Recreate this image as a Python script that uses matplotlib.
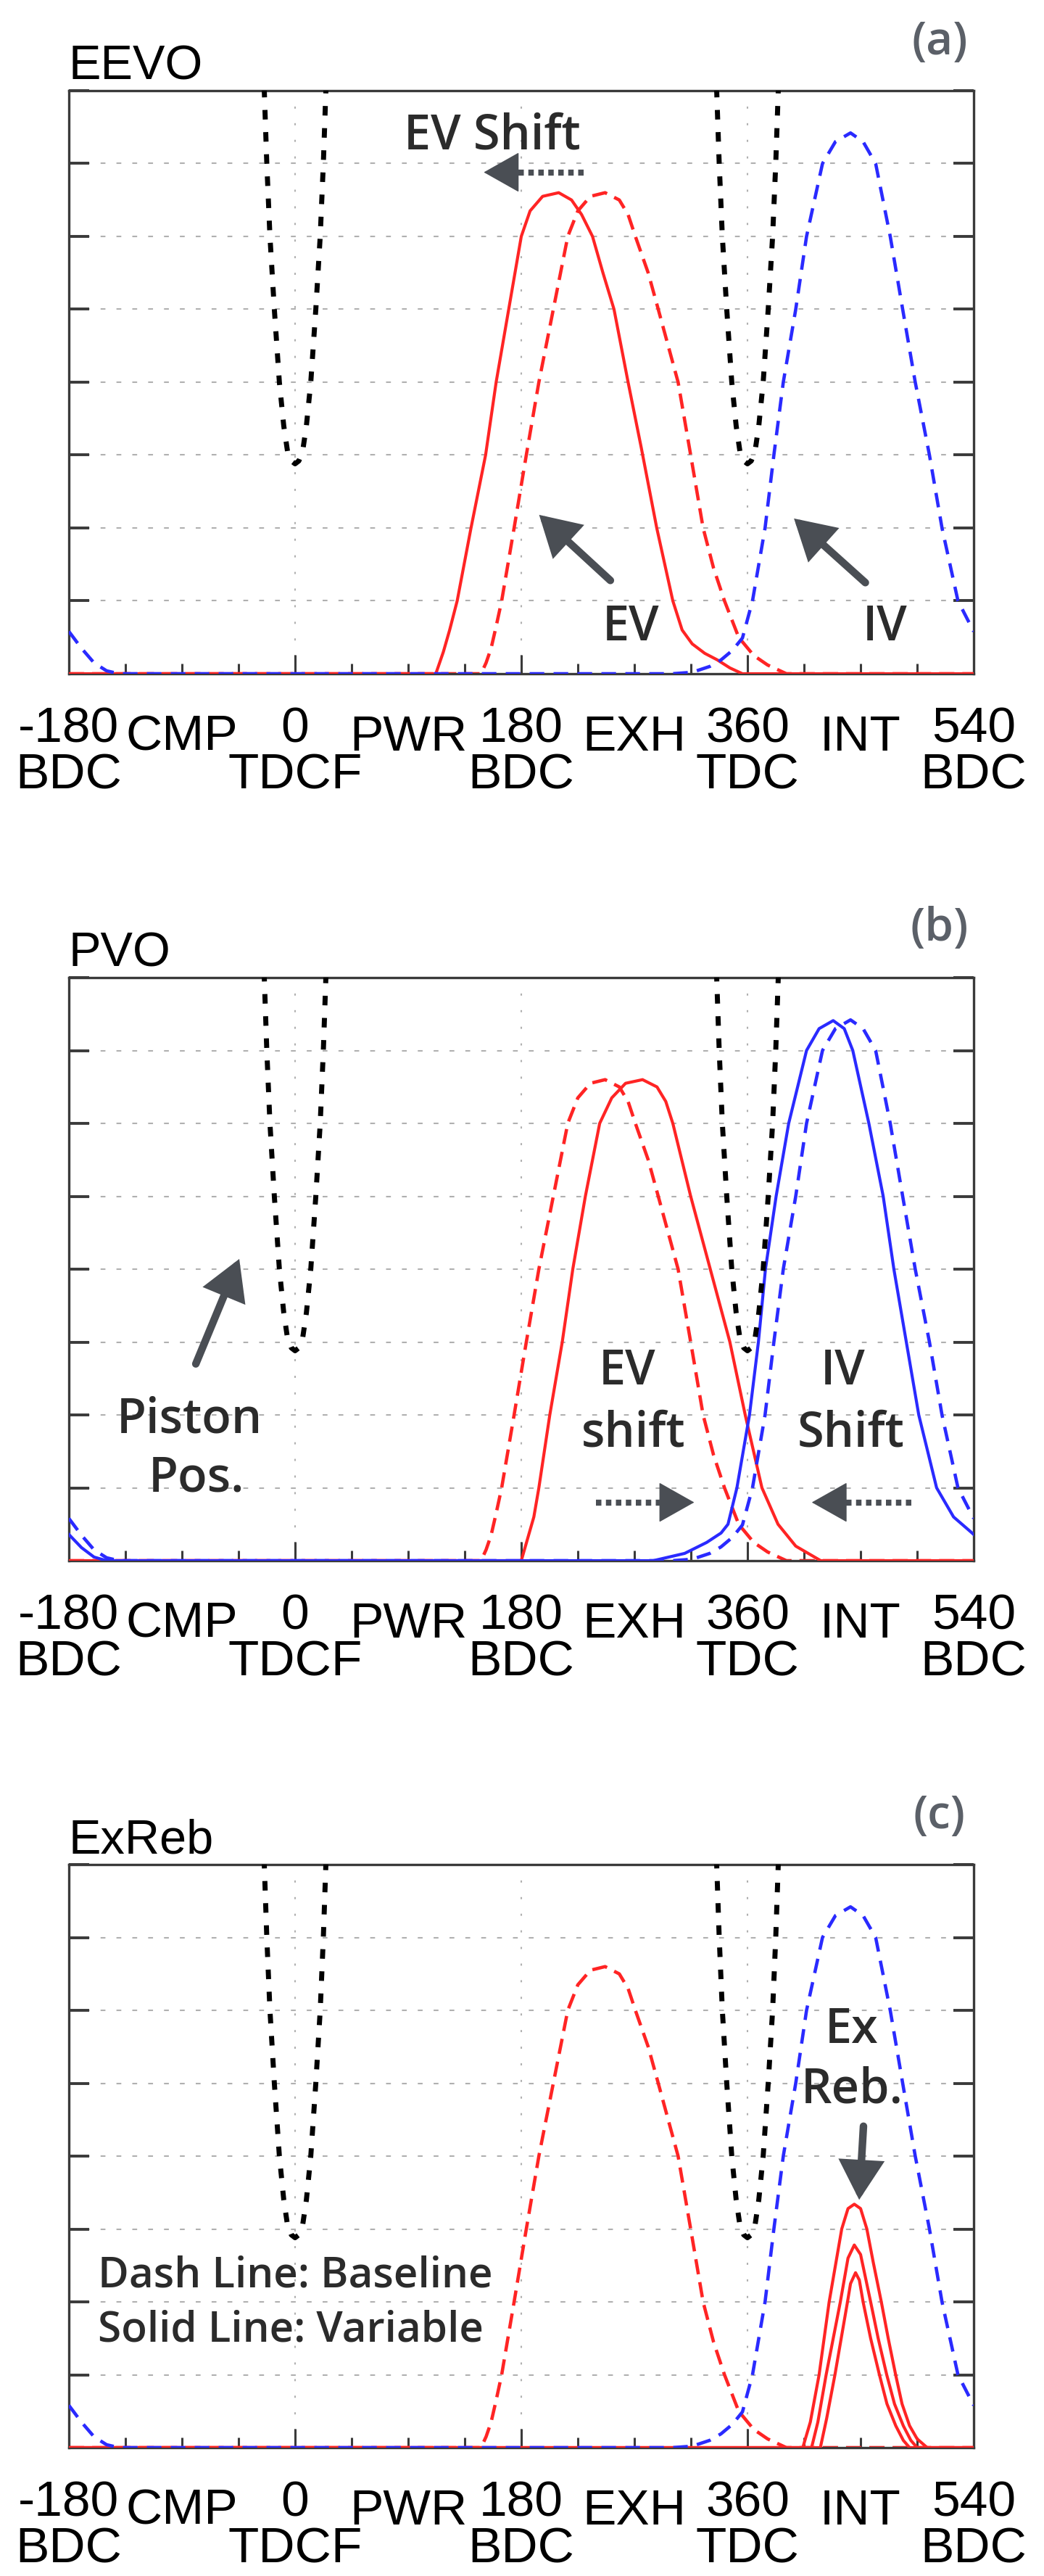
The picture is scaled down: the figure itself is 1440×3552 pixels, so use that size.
import matplotlib
matplotlib.use("Agg")
import matplotlib.pyplot as plt

# ------------------------------------------------------------------
# values (crank angle in deg, lift in grid units)
# ------------------------------------------------------------------
tdc_deg = [0, 360]
piston_off = [-30, -24.5, -22.5, -20, -16.5, -12.5, -9, -6, -3, 0, 3, 6, 9, 12.5, 16.5, 20, 22.5, 24.5, 30]
piston_lift = [9.9, 8.0, 7.0, 6.0, 5.0, 4.0, 3.4, 3.05, 2.92, 2.88, 2.92, 3.05, 3.4, 4.0, 5.0, 6.0, 7.0, 8.0, 9.9]

# baseline exhaust valve (dashed red), same in all panels
ev_base_deg = [-180, 148, 152, 156, 160, 164.4, 174.3, 184, 194, 205.5, 217, 225, 235, 246.7, 258, 265,
               270.8, 281, 289, 304.8, 314.8, 324.7, 333, 341.7, 353, 365, 376, 391, 540]
ev_base_lift = [0, 0, 0.15, 0.35, 0.65, 1.0, 2.0, 3.0, 4.0, 5.0, 6.0, 6.35, 6.55, 6.6, 6.5, 6.3,
                6.0, 5.5, 5.0, 4.0, 3.0, 2.0, 1.45, 1.0, 0.5, 0.25, 0.12, 0, 0]

# baseline intake valve (dashed blue), same in all panels
iv_base_deg = [-180, -170, -160, -150, -140, 300, 316, 330, 339, 348, 356, 364, 374, 381, 388.5, 398.4,
               407, 419.7, 430, 442, 452, 462, 473.6, 483.5, 493.5, 504.8, 514.8, 527.5, 540]
iv_base_lift = [0.58, 0.35, 0.15, 0.04, 0, 0, 0.02, 0.1, 0.19, 0.32, 0.49, 1.0, 2.0, 3.0, 4.0, 5.0,
                6.0, 7.0, 7.3, 7.42, 7.3, 7.0, 6.0, 5.0, 4.0, 3.0, 2.0, 1.0, 0.58]

# (a) EEVO: exhaust valve opened earlier
ev_eevo_deg = [-180, 112, 118, 123, 129, 140, 151.6, 160, 170, 180, 187, 197, 209.8, 220, 228, 236.7,
               245, 253.8, 265, 275.5, 287.8, 300.6, 308, 316, 326, 336, 346, 356, 540]
ev_eevo_lift = [0, 0, 0.3, 0.6, 1.0, 2.0, 3.0, 4.0, 5.0, 6.0, 6.35, 6.55, 6.6, 6.5, 6.3, 6.0,
                5.5, 5.0, 4.0, 3.1, 2.0, 1.0, 0.6, 0.41, 0.28, 0.19, 0.08, 0, 0]

# (b) PVO: exhaust later, intake earlier
ev_pvo_deg = [-180, 180, 185, 190, 194, 202.7, 212.6, 221, 231, 242.4, 252, 263, 276.5, 288, 295,
              300.6, 314.8, 330.4, 346, 358.2, 371.5, 384.3, 398.4, 418.3, 540]
ev_pvo_lift = [0, 0, 0.3, 0.6, 1.0, 2.0, 3.0, 4.0, 5.0, 6.0, 6.35, 6.55, 6.6, 6.5, 6.3,
               6.0, 5.0, 4.0, 3.0, 2.0, 1.0, 0.5, 0.2, 0, 0]
iv_pvo_deg = [-180, -170, -160, -150, 285, 310, 327.5, 339, 344.5, 351.6, 361.6, 368.7, 374.3, 382.8,
              392.8, 407, 417, 428.2, 437, 443.8, 456.6, 468, 476.5, 486.4, 496.3, 510.5, 524, 537.4, 540]
iv_pvo_lift = [0.36, 0.18, 0.05, 0, 0, 0.1, 0.25, 0.38, 0.5, 1.0, 2.0, 3.0, 4.0, 5.0,
               6.0, 7.0, 7.3, 7.41, 7.3, 7.0, 6.0, 5.0, 4.0, 3.0, 2.0, 1.0, 0.6, 0.4, 0.36]

# (c) exhaust rebreathing, three lift levels
reb_deg = [
    [-180, 404, 410, 417, 425, 435, 440, 445, 450, 455, 460, 466.5, 472, 477.9, 483, 489, 495, 503, 540],
    [-180, 411, 416, 422.6, 433.9, 440, 445, 450, 458, 464, 470.8, 477, 484, 490, 495, 540],
    [-180, 418, 423, 429.6, 439.6, 442, 446, 449, 452, 458, 465, 471, 478, 484, 489, 540],
]
reb_lift = [
    [0, 0, 0.35, 1.0, 2.0, 3.0, 3.28, 3.34, 3.28, 3.0, 2.55, 2.0, 1.5, 1.0, 0.6, 0.3, 0.12, 0, 0],
    [0, 0, 0.35, 1.0, 2.0, 2.6, 2.78, 2.65, 2.0, 1.5, 1.0, 0.6, 0.3, 0.1, 0, 0],
    [0, 0, 0.4, 1.0, 2.0, 2.25, 2.4, 2.3, 2.0, 1.5, 1.0, 0.6, 0.3, 0.1, 0, 0],
]

tick_deg = [-180, 0, 180, 360, 540]
tick_num = ["-180", "0", "180", "360", "540"]
tick_ref = ["BDC", "TDCF", "BDC", "TDC", "BDC"]
stroke_deg = [-90, 90, 270, 450]
stroke_lab = ["CMP", "PWR", "EXH", "INT"]

titles = ["EEVO", "PVO", "ExReb"]
letters = ["(a)", "(b)", "(c)"]

RED = "#ff2424"
BLUE = "#2a2aff"
ARROW = "#4a4e54"
TXT = "#2b2b2b"
FRAME = "#3a3a3a"
LABEL_FONT = ["Liberation Sans", "DejaVu Sans"]
NOTE_FONT = ["Open Sans", "DejaVu Sans"]

W, H = 1440, 3552
fig = plt.figure(figsize=(W / 100, H / 100), dpi=100)

# axes boxes in pixels: left, top, width, height
frames = [(95, 125, 1248, 804), (95, 1348, 1248, 804), (95, 2571, 1248, 804)]
letter_y = [58, 1281, 2504]


def note(ax, s, x, y, size=48, ha="center"):
    ax.text(x, y, s, ha=ha, va="baseline", fontsize=size, family=NOTE_FONT,
            weight="semibold", color=TXT, zorder=6)


def solid_arrow(ax, tail, tip):
    ax.annotate("", xy=tip, xytext=tail,
                arrowprops=dict(arrowstyle="-|>,head_length=0.95,head_width=0.55",
                                mutation_scale=30, lw=7.5, color=ARROW,
                                shrinkA=0, shrinkB=0, joinstyle="miter"),
                zorder=6)


def dotted_arrow(ax, tail, base, tip, y):
    ax.plot([tail, base], [y, y], color=ARROW, lw=6, linestyle=(0, (0.9, 0.75)),
            solid_capstyle="butt", dash_capstyle="butt", zorder=6)
    ax.annotate("", xy=(tip, y), xytext=(base, y),
                arrowprops=dict(arrowstyle="-|>,head_length=1.1,head_width=0.62",
                                mutation_scale=30, lw=1, color=ARROW,
                                shrinkA=0, shrinkB=0),
                zorder=6)


axes = []
for i, (l, t, w, h) in enumerate(frames):
    ax = fig.add_axes([l / W, 1 - (t + h) / H, w / W, h / H])
    axes.append(ax)
    ax.set_xlim(-180, 540)
    ax.set_ylim(0, 8)

    ax.set_xticks([0, 180, 360])
    ax.set_xticks([d for d in range(-135, 540, 45) if d not in (0, 180, 360)], minor=True)
    ax.set_yticks(range(0, 9))
    ax.tick_params(axis="x", which="major", direction="in", length=19, width=2.2,
                   color=FRAME, labelbottom=False)
    ax.tick_params(axis="x", which="minor", direction="in", length=10, width=2.2,
                   color=FRAME)
    ax.tick_params(axis="y", direction="in", length=20, width=2.8, color=FRAME,
                   left=True, right=True, labelleft=False)
    for sp in ax.spines.values():
        sp.set_color(FRAME)
        sp.set_linewidth(2.4)

    ax.set_axisbelow(True)
    ax.yaxis.grid(True, color="#b0b0b0", lw=1.5, linestyle=(0, (3.2, 7.3)))
    ax.xaxis.grid(True, color="#b0b0b0", lw=1.5, linestyle=(0, (1.4, 9.6)))

    # baselines
    ax.plot(ev_base_deg, ev_base_lift, color=RED, lw=3.3, linestyle=(0, (4.6, 2.4)), zorder=2)
    ax.plot(iv_base_deg, iv_base_lift, color=BLUE, lw=3.3, linestyle=(0, (4.4, 2.8)), zorder=3.5)

    # piston position near both TDCs
    for tdc in tdc_deg:
        ax.plot([tdc + o for o in piston_off], piston_lift, color="black", lw=5,
                linestyle=(0, (1.9, 2.5)), dash_capstyle="butt", zorder=4)

    # x labels
    xt = ax.get_xaxis_transform()
    for d, n, r in zip(tick_deg, tick_num, tick_ref):
        ax.annotate(n, xy=(d, 0), xycoords=xt, xytext=(0, -67.7), textcoords="offset points",
                    ha="center", va="baseline", fontsize=50, family=LABEL_FONT,
                    annotation_clip=False)
        ax.annotate(r, xy=(d, 0), xycoords=xt, xytext=(0, -113.8), textcoords="offset points",
                    ha="center", va="baseline", fontsize=50, family=LABEL_FONT,
                    annotation_clip=False)
    for d, s in zip(stroke_deg, stroke_lab):
        ax.annotate(s, xy=(d, 0), xycoords=xt, xytext=(0, -76.3), textcoords="offset points",
                    ha="center", va="baseline", fontsize=50, family=LABEL_FONT,
                    annotation_clip=False)

    ax.annotate(titles[i], xy=(0, 1), xycoords="axes fraction", xytext=(0, 11.5),
                textcoords="offset points", ha="left", va="baseline", fontsize=48,
                family=LABEL_FONT)
    fig.text(1296 / W, 1 - letter_y[i] / H, letters[i], ha="center", va="center",
             fontsize=46, family=NOTE_FONT, weight="semibold", color="#5b6068")

# ---- (a) EEVO ----
ax = axes[0]
ax.plot(ev_eevo_deg, ev_eevo_lift, color=RED, lw=3.0, zorder=3)
note(ax, "EV Shift", 157, 7.2)
dotted_arrow(ax, 229.6, 177.2, 150.2, 6.88)
note(ax, "EV", 267.2, 0.46)
note(ax, "IV", 469.4, 0.46)
solid_arrow(ax, (250.9, 1.28), (194.2, 2.18))
solid_arrow(ax, (453.8, 1.25), (397.0, 2.13))

# ---- (b) PVO ----
ax = axes[1]
ax.plot(ev_pvo_deg, ev_pvo_lift, color=RED, lw=3.0, zorder=3)
ax.plot(iv_pvo_deg, iv_pvo_lift, color=BLUE, lw=3.0, zorder=3)
note(ax, "Piston", -84.2, 1.76)
note(ax, "Pos.", -78.5, 0.955)
solid_arrow(ax, (-79, 2.7), (-44.4, 4.14))
note(ax, "EV", 264.4, 2.42)
note(ax, "shift", 269.4, 1.57)
note(ax, "IV", 435.9, 2.42)
note(ax, "Shift", 442.4, 1.57)
dotted_arrow(ax, 239.6, 293.5, 317.6, 0.8)
dotted_arrow(ax, 490.6, 436.7, 411.2, 0.8)

# ---- (c) ExReb ----
ax = axes[2]
for d, v in zip(reb_deg, reb_lift):
    ax.plot(d, v, color=RED, lw=3.0, zorder=3)
note(ax, "Ex", 443, 5.55)
note(ax, "Reb.", 443, 4.73)
solid_arrow(ax, (452.3, 4.41), (448.9, 3.40))
note(ax, "Dash Line: Baseline", -156.9, 2.2, size=42, ha="left")
note(ax, "Solid Line: Variable", -156.9, 1.46, size=42, ha="left")

fig.savefig("out.png", dpi=100)
